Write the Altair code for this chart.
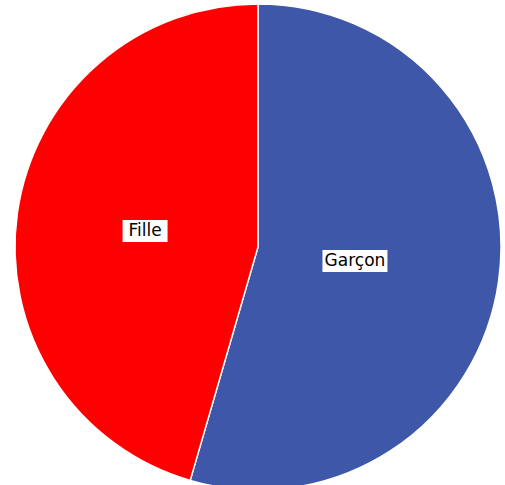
import altair as alt
import pandas as pd

# Data
categories = ["Garçon", "Fille"]
values = [54.5, 45.5]
order = [0, 1]
colors = ["#3E57A8", "#FF0000"]

df = pd.DataFrame({"sexe": categories, "valeur": values, "ordre": order})

CX, CY, R = 258, 247, 243
LCX, LCY, LR = 250, 246, 106

pie = alt.Chart(df).mark_arc(radius=R, stroke="white", strokeWidth=1.5).encode(
    theta=alt.Theta("valeur:Q", stack=True),
    color=alt.Color("sexe:N", scale=alt.Scale(domain=categories, range=colors), legend=None),
    order=alt.Order("ordre:Q"),
    x=alt.value(CX),
    y=alt.value(CY),
)

lab = (
    alt.Chart(df)
    .transform_joinaggregate(total="sum(valeur)")
    .transform_window(cum="sum(valeur)", sort=[alt.SortField("ordre")], frame=[None, 0])
    .transform_calculate(
        mid="2*PI*(datum.cum - datum.valeur/2)/datum.total",
    )
    .transform_calculate(
        lx=f"{LCX} + {LR}*sin(datum.mid)",
        ly=f"{LCY} - {LR}*cos(datum.mid)",
        hw="datum.sexe == 'Fille' ? 22.5 : 32.5",
    )
    .transform_calculate(
        bx1="datum.lx - datum.hw",
        bx2="datum.lx + datum.hw",
        by1="datum.ly - 11",
        by2="datum.ly + 11",
    )
)

box = lab.mark_rect(color="white").encode(
    x=alt.X("bx1:Q", scale=None, axis=None),
    x2="bx2:Q",
    y=alt.Y("by1:Q", scale=None, axis=None),
    y2="by2:Q",
)

txt = lab.mark_text(font="DejaVu Sans", fontSize=17, color="black", align="center", baseline="middle").encode(
    x=alt.X("lx:Q", scale=None, axis=None),
    y=alt.Y("ly:Q", scale=None, axis=None),
    text="sexe:N",
)

chart = alt.layer(pie, box, txt).properties(
    width=505, height=485, padding=0, autosize=alt.AutoSizeParams(type="none"),
    background="white",
).configure_view(stroke=None)

chart.save("out.html", embed_options={"renderer": "svg", "actions": False})
